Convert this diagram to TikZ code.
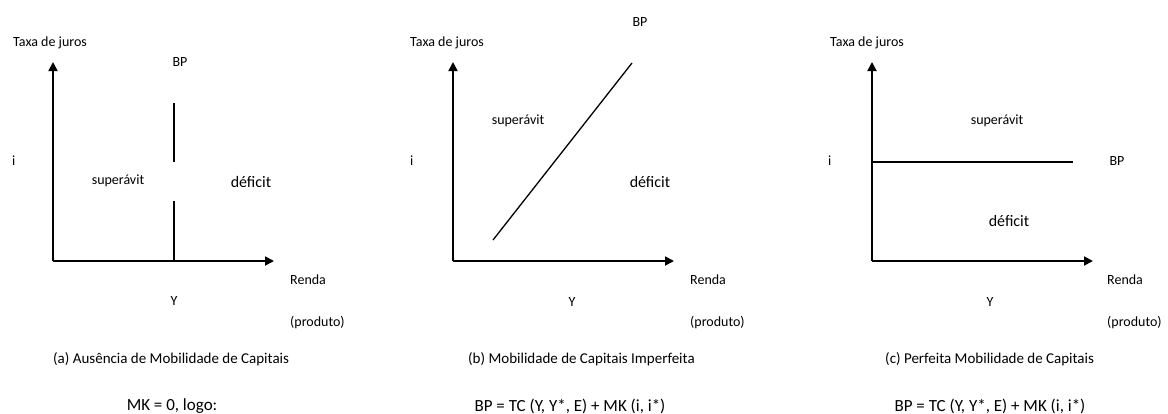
\documentclass[tikz,border=0pt]{standalone}
\usepackage{fontspec}
\setmainfont{Carlito}
\usetikzlibrary{arrows.meta}
\tikzset{
  axis/.style={line width=1.8pt,-{Triangle[length=9pt,width=9pt]}},
  bpline/.style={line width=1.3pt},
  lbl/.style={inner sep=0pt,font=\fontsize{14}{16}\selectfont},
  captxt/.style={inner sep=0pt,font=\fontsize{15}{17}\selectfont},
  big/.style={inner sep=0pt,font=\fontsize{16}{18}\selectfont},
  eqn/.style={inner sep=0pt,font=\fontsize{17}{19}\selectfont},
}
\begin{document}
\begin{tikzpicture}[x=1pt,y=-1pt]
\useasboundingbox (0,0) rectangle (1168,413);
% ---------- panel (a)
\coordinate (aO) at (53,261);
\coordinate (aY) at (53,62);
\coordinate (aX) at (274,261);
\draw[axis] (aO) -- (aY);
\draw[axis] (aO) -- (aX);
\coordinate (aB1) at (174,103);
\coordinate (aB2) at (174,162);
\coordinate (aB3) at (174,201);
\coordinate (aB4) at (174,261);
\draw[bpline] (aB1) -- (aB2);
\draw[bpline] (aB3) -- (aB4);
\node[lbl,anchor=west] (aT) at (13,43) {Taxa de juros};
\node[lbl] (aBP) at (180,62) {BP};
\node[lbl,anchor=west] (ai) at (12,161) {i};
\node[lbl] (asup) at (118,181) {superávit};
\node[big] (adef) at (251,182) {déficit};
\node[lbl,anchor=west] (aR) at (290,280) {Renda};
\node[lbl] (aYl) at (174,301) {Y};
\node[lbl,anchor=west] (aP) at (290,323) {(produto)};
\node[captxt,anchor=west] (acap) at (53,359) {(a) Ausência de Mobilidade de Capitais};
\node[eqn] (aeq) at (172,406) {MK = 0, logo:};
% ---------- panel (b)
\coordinate (bO) at (453,261);
\coordinate (bY) at (453,62);
\coordinate (bX) at (674,261);
\draw[axis] (bO) -- (bY);
\draw[axis] (bO) -- (bX);
\coordinate (bB1) at (493,240);
\coordinate (bB2) at (632,63);
\draw[bpline] (bB1) -- (bB2);
\node[lbl,anchor=west] (bT) at (410,43) {Taxa de juros};
\node[lbl] (bBP) at (640,22) {BP};
\node[lbl,anchor=west] (bi) at (410,161) {i};
\node[lbl] (bsup) at (518,121) {superávit};
\node[big] (bdef) at (650,182) {déficit};
\node[lbl,anchor=west] (bR) at (690,280) {Renda};
\node[lbl] (bYl) at (572,302) {Y};
\node[lbl,anchor=west] (bP) at (690,323) {(produto)};
\node[captxt,anchor=west] (bcap) at (468,359) {(b) Mobilidade de Capitais Imperfeita};
\node[eqn] (beq) at (570,406) {BP = TC (Y, Y*, E) + MK (i, i*)};
% ---------- panel (c)
\coordinate (cO) at (872,261);
\coordinate (cY) at (872,62);
\coordinate (cX) at (1093,261);
\draw[axis] (cO) -- (cY);
\draw[axis] (cO) -- (cX);
\coordinate (cB1) at (872,162);
\coordinate (cB2) at (1073,162);
\draw[bpline] (cB1) -- (cB2);
\node[lbl,anchor=west] (cT) at (830,43) {Taxa de juros};
\node[lbl] (cBP) at (1117,161) {BP};
\node[lbl,anchor=west] (ci) at (828,161) {i};
\node[lbl] (csup) at (997,121) {superávit};
\node[big] (cdef) at (1009,221) {déficit};
\node[lbl,anchor=west] (cR) at (1107,280) {Renda};
\node[lbl] (cYl) at (990,302) {Y};
\node[lbl,anchor=west] (cP) at (1107,323) {(produto)};
\node[captxt,anchor=west] (ccap) at (885,359) {(c) Perfeita Mobilidade de Capitais};
\node[eqn] (ceq) at (990,406) {BP = TC (Y, Y*, E) + MK (i, i*)};
\end{tikzpicture}
\end{document}
